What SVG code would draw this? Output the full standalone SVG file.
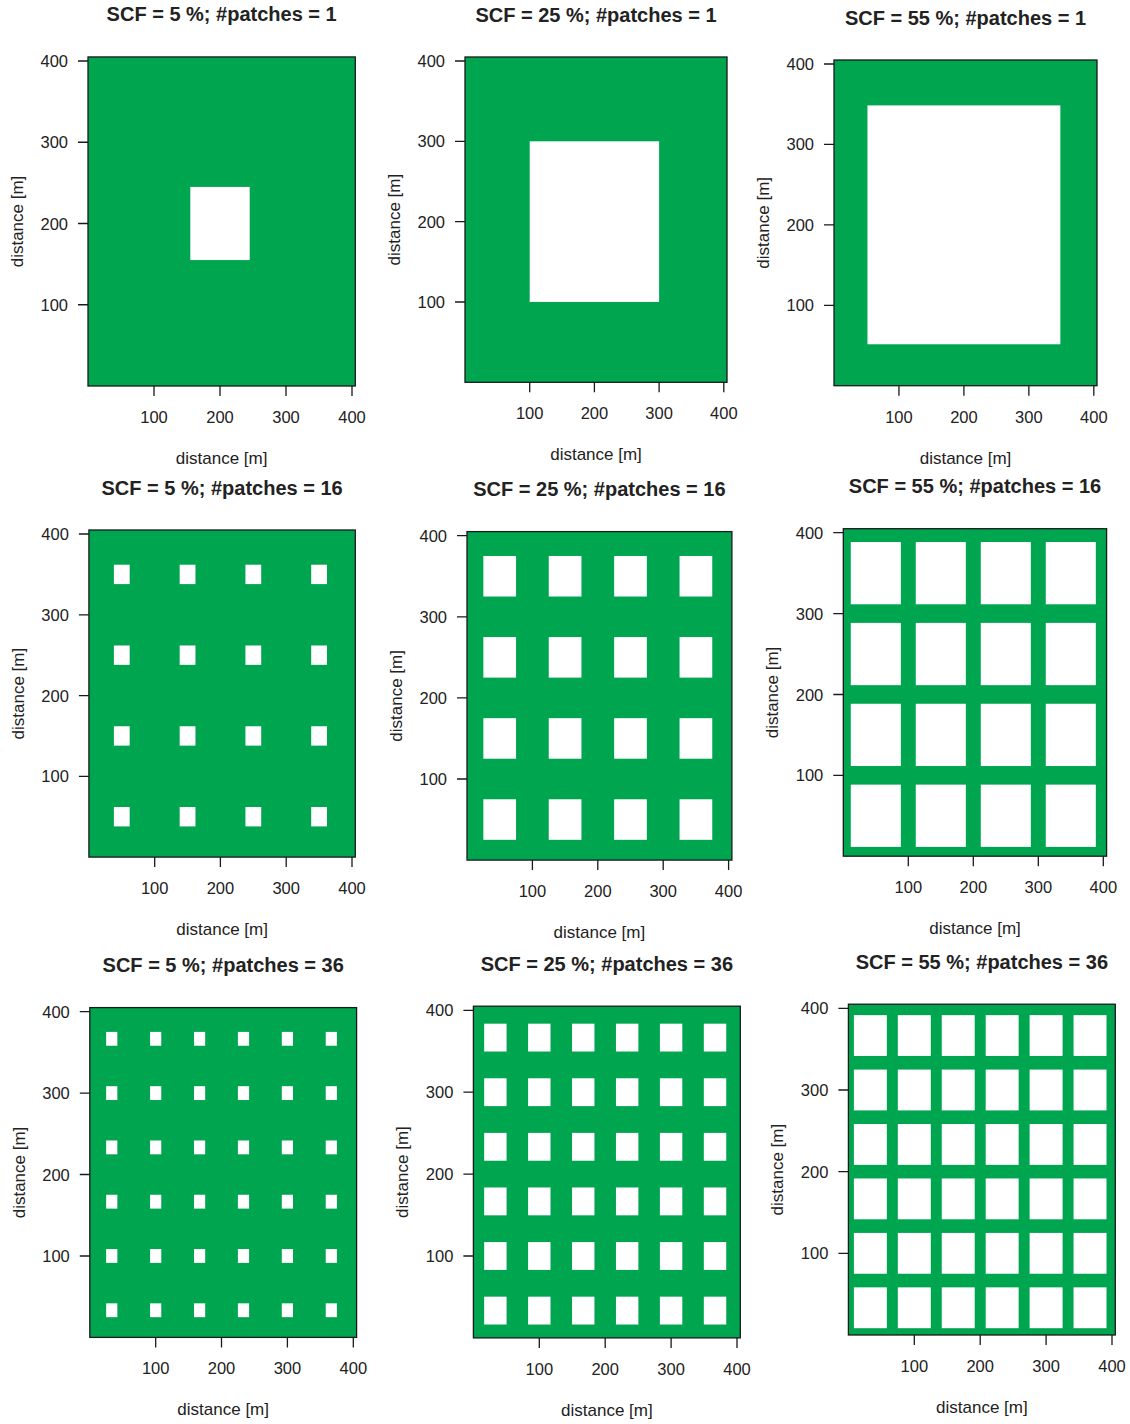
<svg xmlns="http://www.w3.org/2000/svg" width="1130" height="1424" viewBox="0 0 1130 1424">
<style>
.bg{fill:#00a54f}
.w{fill:#ffffff}
.box{fill:none;stroke:#1a1a1a;stroke-width:1.3}
.tk{fill:none;stroke:#1a1a1a;stroke-width:1.3}
text{font-family:"Liberation Sans",Arial,sans-serif;fill:#222}
.t{font-size:20px;font-weight:bold;text-anchor:middle}
.xl{font-size:16.5px;text-anchor:middle}
.yl{font-size:16.5px;text-anchor:end}
.al{font-size:17px;text-anchor:middle}
</style>
<rect width="1130" height="1424" fill="#ffffff"/>

<g id="panel-scf5-n1">
 <g transform="translate(88,386) scale(0.66,-0.8125)">
  <rect class="bg" width="405" height="405"/>
  <rect class="w" x="155" y="155" width="90" height="90"/>
 </g>
 <rect class="box" x="88" y="56.94" width="267.3" height="329.06"/>
 <path class="tk" d="M78 304.75H88M78 223.5H88M78 142.25H88M78 61H88M154 386V396M220 386V396M286 386V396M352 386V396"/>
 <text class="t" x="221.65" y="21.4">SCF = 5 %; #patches = 1</text>
 <text class="yl" x="68" y="310.75">100</text><text class="yl" x="68" y="229.5">200</text><text class="yl" x="68" y="148.25">300</text><text class="yl" x="68" y="67">400</text>
 <text class="xl" x="154" y="423">100</text><text class="xl" x="220" y="423">200</text><text class="xl" x="286" y="423">300</text><text class="xl" x="352" y="423">400</text>
 <text class="al" x="221.65" y="464">distance [m]</text>
 <text class="al" transform="translate(23,221.5) rotate(-90)">distance [m]</text>
</g>

<g id="panel-scf25-n1">
 <g transform="translate(465,382.3) scale(0.647,-0.8033)">
  <rect class="bg" width="405" height="405"/>
  <rect class="w" x="100" y="100" width="200" height="200"/>
 </g>
 <rect class="box" x="465" y="57" width="262" height="325.3"/>
 <path class="tk" d="M455 302H465M455 221.6H465M455 141.3H465M455 61H465M529.7 382.3V392.3M594.4 382.3V392.3M659.1 382.3V392.3M723.8 382.3V392.3"/>
 <text class="t" x="596" y="21.5">SCF = 25 %; #patches = 1</text>
 <text class="yl" x="445" y="308">100</text><text class="yl" x="445" y="227.6">200</text><text class="yl" x="445" y="147.3">300</text><text class="yl" x="445" y="67">400</text>
 <text class="xl" x="529.7" y="419.3">100</text><text class="xl" x="594.4" y="419.3">200</text><text class="xl" x="659.1" y="419.3">300</text><text class="xl" x="723.8" y="419.3">400</text>
 <text class="al" x="596" y="460.3">distance [m]</text>
 <text class="al" transform="translate(400,219.6) rotate(-90)">distance [m]</text>
</g>

<g id="panel-scf55-n1">
 <g transform="translate(834,385.7) scale(0.6495,-0.8043)">
  <rect class="bg" width="405" height="405"/>
  <rect class="w" x="51.5" y="51.5" width="297" height="297"/>
 </g>
 <rect class="box" x="834" y="60" width="263" height="325.7"/>
 <path class="tk" d="M824 305.3H834M824 224.8H834M824 144.4H834M824 64H834M898.95 385.7V395.7M963.9 385.7V395.7M1028.85 385.7V395.7M1093.8 385.7V395.7"/>
 <text class="t" x="965.5" y="24.5">SCF = 55 %; #patches = 1</text>
 <text class="yl" x="814" y="311.3">100</text><text class="yl" x="814" y="230.8">200</text><text class="yl" x="814" y="150.4">300</text><text class="yl" x="814" y="70">400</text>
 <text class="xl" x="898.95" y="422.7">100</text><text class="xl" x="963.9" y="422.7">200</text><text class="xl" x="1028.85" y="422.7">300</text><text class="xl" x="1093.8" y="422.7">400</text>
 <text class="al" x="965.5" y="463.7">distance [m]</text>
 <text class="al" transform="translate(769,222.8) rotate(-90)">distance [m]</text>
</g>

<g id="panel-scf5-n16">
 <g transform="translate(88.9,857.1) scale(0.6577,-0.8077)">
  <rect class="bg" width="405" height="405"/>
  <rect class="w" x="38" y="38" width="24" height="24"/><rect class="w" x="138" y="38" width="24" height="24"/><rect class="w" x="238" y="38" width="24" height="24"/><rect class="w" x="338" y="38" width="24" height="24"/>
  <rect class="w" x="38" y="138" width="24" height="24"/><rect class="w" x="138" y="138" width="24" height="24"/><rect class="w" x="238" y="138" width="24" height="24"/><rect class="w" x="338" y="138" width="24" height="24"/>
  <rect class="w" x="38" y="238" width="24" height="24"/><rect class="w" x="138" y="238" width="24" height="24"/><rect class="w" x="238" y="238" width="24" height="24"/><rect class="w" x="338" y="238" width="24" height="24"/>
  <rect class="w" x="38" y="338" width="24" height="24"/><rect class="w" x="138" y="338" width="24" height="24"/><rect class="w" x="238" y="338" width="24" height="24"/><rect class="w" x="338" y="338" width="24" height="24"/>
 </g>
 <rect class="box" x="88.9" y="530" width="266.4" height="327.1"/>
 <path class="tk" d="M78.9 776.3H88.9M78.9 695.6H88.9M78.9 614.8H88.9M78.9 534H88.9M154.7 857.1V867.1M220.4 857.1V867.1M286.2 857.1V867.1M352 857.1V867.1"/>
 <text class="t" x="222.1" y="494.5">SCF = 5 %; #patches = 16</text>
 <text class="yl" x="68.9" y="782.3">100</text><text class="yl" x="68.9" y="701.6">200</text><text class="yl" x="68.9" y="620.8">300</text><text class="yl" x="68.9" y="540">400</text>
 <text class="xl" x="154.7" y="894.1">100</text><text class="xl" x="220.4" y="894.1">200</text><text class="xl" x="286.2" y="894.1">300</text><text class="xl" x="352" y="894.1">400</text>
 <text class="al" x="222.1" y="935.1">distance [m]</text>
 <text class="al" transform="translate(24,693.6) rotate(-90)">distance [m]</text>
</g>

<g id="panel-scf25-n16">
 <g transform="translate(467,860.1) scale(0.654,-0.811)">
  <rect class="bg" width="405" height="405"/>
  <rect class="w" x="25" y="25" width="50" height="50"/><rect class="w" x="125" y="25" width="50" height="50"/><rect class="w" x="225" y="25" width="50" height="50"/><rect class="w" x="325" y="25" width="50" height="50"/>
  <rect class="w" x="25" y="125" width="50" height="50"/><rect class="w" x="125" y="125" width="50" height="50"/><rect class="w" x="225" y="125" width="50" height="50"/><rect class="w" x="325" y="125" width="50" height="50"/>
  <rect class="w" x="25" y="225" width="50" height="50"/><rect class="w" x="125" y="225" width="50" height="50"/><rect class="w" x="225" y="225" width="50" height="50"/><rect class="w" x="325" y="225" width="50" height="50"/>
  <rect class="w" x="25" y="325" width="50" height="50"/><rect class="w" x="125" y="325" width="50" height="50"/><rect class="w" x="225" y="325" width="50" height="50"/><rect class="w" x="325" y="325" width="50" height="50"/>
 </g>
 <rect class="box" x="467" y="531.6" width="264.9" height="328.5"/>
 <path class="tk" d="M457 779H467M457 697.9H467M457 616.8H467M457 535.7H467M532.4 860.1V870.1M597.8 860.1V870.1M663.2 860.1V870.1M728.6 860.1V870.1"/>
 <text class="t" x="599.4" y="496.1">SCF = 25 %; #patches = 16</text>
 <text class="yl" x="447" y="785">100</text><text class="yl" x="447" y="703.9">200</text><text class="yl" x="447" y="622.8">300</text><text class="yl" x="447" y="541.7">400</text>
 <text class="xl" x="532.4" y="897.1">100</text><text class="xl" x="597.8" y="897.1">200</text><text class="xl" x="663.2" y="897.1">300</text><text class="xl" x="728.6" y="897.1">400</text>
 <text class="al" x="599.4" y="938.1">distance [m]</text>
 <text class="al" transform="translate(402,695.9) rotate(-90)">distance [m]</text>
</g>

<g id="panel-scf55-n16">
 <g transform="translate(843.3,856.2) scale(0.65,-0.8087)">
  <rect class="bg" width="405" height="405"/>
  <rect class="w" x="11.5" y="11.5" width="77" height="77"/><rect class="w" x="111.5" y="11.5" width="77" height="77"/><rect class="w" x="211.5" y="11.5" width="77" height="77"/><rect class="w" x="311.5" y="11.5" width="77" height="77"/>
  <rect class="w" x="11.5" y="111.5" width="77" height="77"/><rect class="w" x="111.5" y="111.5" width="77" height="77"/><rect class="w" x="211.5" y="111.5" width="77" height="77"/><rect class="w" x="311.5" y="111.5" width="77" height="77"/>
  <rect class="w" x="11.5" y="211.5" width="77" height="77"/><rect class="w" x="111.5" y="211.5" width="77" height="77"/><rect class="w" x="211.5" y="211.5" width="77" height="77"/><rect class="w" x="311.5" y="211.5" width="77" height="77"/>
  <rect class="w" x="11.5" y="311.5" width="77" height="77"/><rect class="w" x="111.5" y="311.5" width="77" height="77"/><rect class="w" x="211.5" y="311.5" width="77" height="77"/><rect class="w" x="311.5" y="311.5" width="77" height="77"/>
 </g>
 <rect class="box" x="843.3" y="528.7" width="263.3" height="327.5"/>
 <path class="tk" d="M833.3 775.3H843.3M833.3 694.5H843.3M833.3 613.6H843.3M833.3 532.7H843.3M908.3 856.2V866.2M973.3 856.2V866.2M1038.3 856.2V866.2M1103.3 856.2V866.2"/>
 <text class="t" x="975" y="493.2">SCF = 55 %; #patches = 16</text>
 <text class="yl" x="823.3" y="781.3">100</text><text class="yl" x="823.3" y="700.5">200</text><text class="yl" x="823.3" y="619.6">300</text><text class="yl" x="823.3" y="538.7">400</text>
 <text class="xl" x="908.3" y="893.2">100</text><text class="xl" x="973.3" y="893.2">200</text><text class="xl" x="1038.3" y="893.2">300</text><text class="xl" x="1103.3" y="893.2">400</text>
 <text class="al" x="975" y="934.2">distance [m]</text>
 <text class="al" transform="translate(778,692.5) rotate(-90)">distance [m]</text>
</g>

<g id="panel-scf5-n36">
 <g transform="translate(89.8,1337.4) scale(0.6587,-0.8143)">
  <rect class="bg" width="405" height="405"/>
  <g id="c1r1"><rect class="w" x="24.83" y="24.83" width="17" height="17"/><rect class="w" x="91.5" y="24.83" width="17" height="17"/><rect class="w" x="158.17" y="24.83" width="17" height="17"/><rect class="w" x="224.83" y="24.83" width="17" height="17"/><rect class="w" x="291.5" y="24.83" width="17" height="17"/><rect class="w" x="358.17" y="24.83" width="17" height="17"/></g>
  <rect class="w" x="24.83" y="91.5" width="17" height="17"/><rect class="w" x="91.5" y="91.5" width="17" height="17"/><rect class="w" x="158.17" y="91.5" width="17" height="17"/><rect class="w" x="224.83" y="91.5" width="17" height="17"/><rect class="w" x="291.5" y="91.5" width="17" height="17"/><rect class="w" x="358.17" y="91.5" width="17" height="17"/>
  <rect class="w" x="24.83" y="158.17" width="17" height="17"/><rect class="w" x="91.5" y="158.17" width="17" height="17"/><rect class="w" x="158.17" y="158.17" width="17" height="17"/><rect class="w" x="224.83" y="158.17" width="17" height="17"/><rect class="w" x="291.5" y="158.17" width="17" height="17"/><rect class="w" x="358.17" y="158.17" width="17" height="17"/>
  <rect class="w" x="24.83" y="224.83" width="17" height="17"/><rect class="w" x="91.5" y="224.83" width="17" height="17"/><rect class="w" x="158.17" y="224.83" width="17" height="17"/><rect class="w" x="224.83" y="224.83" width="17" height="17"/><rect class="w" x="291.5" y="224.83" width="17" height="17"/><rect class="w" x="358.17" y="224.83" width="17" height="17"/>
  <rect class="w" x="24.83" y="291.5" width="17" height="17"/><rect class="w" x="91.5" y="291.5" width="17" height="17"/><rect class="w" x="158.17" y="291.5" width="17" height="17"/><rect class="w" x="224.83" y="291.5" width="17" height="17"/><rect class="w" x="291.5" y="291.5" width="17" height="17"/><rect class="w" x="358.17" y="291.5" width="17" height="17"/>
  <rect class="w" x="24.83" y="358.17" width="17" height="17"/><rect class="w" x="91.5" y="358.17" width="17" height="17"/><rect class="w" x="158.17" y="358.17" width="17" height="17"/><rect class="w" x="224.83" y="358.17" width="17" height="17"/><rect class="w" x="291.5" y="358.17" width="17" height="17"/><rect class="w" x="358.17" y="358.17" width="17" height="17"/>
 </g>
 <rect class="box" x="89.8" y="1007.6" width="266.8" height="329.8"/>
 <path class="tk" d="M79.8 1256H89.8M79.8 1174.5H89.8M79.8 1093.1H89.8M79.8 1011.7H89.8M155.7 1337.4V1347.4M221.5 1337.4V1347.4M287.4 1337.4V1347.4M353.3 1337.4V1347.4"/>
 <text class="t" x="223.2" y="972.1">SCF = 5 %; #patches = 36</text>
 <text class="yl" x="69.8" y="1262">100</text><text class="yl" x="69.8" y="1180.5">200</text><text class="yl" x="69.8" y="1099.1">300</text><text class="yl" x="69.8" y="1017.7">400</text>
 <text class="xl" x="155.7" y="1374.4">100</text><text class="xl" x="221.5" y="1374.4">200</text><text class="xl" x="287.4" y="1374.4">300</text><text class="xl" x="353.3" y="1374.4">400</text>
 <text class="al" x="223.2" y="1415.4">distance [m]</text>
 <text class="al" transform="translate(25,1172.5) rotate(-90)">distance [m]</text>
</g>

<g id="panel-scf25-n36">
 <g transform="translate(473.4,1337.9) scale(0.659,-0.819)">
  <rect class="bg" width="405" height="405"/>
  <rect class="w" x="16.33" y="16.33" width="34" height="34"/><rect class="w" x="83" y="16.33" width="34" height="34"/><rect class="w" x="149.67" y="16.33" width="34" height="34"/><rect class="w" x="216.33" y="16.33" width="34" height="34"/><rect class="w" x="283" y="16.33" width="34" height="34"/><rect class="w" x="349.67" y="16.33" width="34" height="34"/>
  <rect class="w" x="16.33" y="83" width="34" height="34"/><rect class="w" x="83" y="83" width="34" height="34"/><rect class="w" x="149.67" y="83" width="34" height="34"/><rect class="w" x="216.33" y="83" width="34" height="34"/><rect class="w" x="283" y="83" width="34" height="34"/><rect class="w" x="349.67" y="83" width="34" height="34"/>
  <rect class="w" x="16.33" y="149.67" width="34" height="34"/><rect class="w" x="83" y="149.67" width="34" height="34"/><rect class="w" x="149.67" y="149.67" width="34" height="34"/><rect class="w" x="216.33" y="149.67" width="34" height="34"/><rect class="w" x="283" y="149.67" width="34" height="34"/><rect class="w" x="349.67" y="149.67" width="34" height="34"/>
  <rect class="w" x="16.33" y="216.33" width="34" height="34"/><rect class="w" x="83" y="216.33" width="34" height="34"/><rect class="w" x="149.67" y="216.33" width="34" height="34"/><rect class="w" x="216.33" y="216.33" width="34" height="34"/><rect class="w" x="283" y="216.33" width="34" height="34"/><rect class="w" x="349.67" y="216.33" width="34" height="34"/>
  <rect class="w" x="16.33" y="283" width="34" height="34"/><rect class="w" x="83" y="283" width="34" height="34"/><rect class="w" x="149.67" y="283" width="34" height="34"/><rect class="w" x="216.33" y="283" width="34" height="34"/><rect class="w" x="283" y="283" width="34" height="34"/><rect class="w" x="349.67" y="283" width="34" height="34"/>
  <rect class="w" x="16.33" y="349.67" width="34" height="34"/><rect class="w" x="83" y="349.67" width="34" height="34"/><rect class="w" x="149.67" y="349.67" width="34" height="34"/><rect class="w" x="216.33" y="349.67" width="34" height="34"/><rect class="w" x="283" y="349.67" width="34" height="34"/><rect class="w" x="349.67" y="349.67" width="34" height="34"/>
 </g>
 <rect class="box" x="473.4" y="1006.2" width="266.9" height="331.7"/>
 <path class="tk" d="M463.4 1256H473.4M463.4 1174.1H473.4M463.4 1092.2H473.4M463.4 1010.3H473.4M539.3 1337.9V1347.9M605.2 1337.9V1347.9M671.1 1337.9V1347.9M737 1337.9V1347.9"/>
 <text class="t" x="606.85" y="970.7">SCF = 25 %; #patches = 36</text>
 <text class="yl" x="453.4" y="1262">100</text><text class="yl" x="453.4" y="1180.1">200</text><text class="yl" x="453.4" y="1098.2">300</text><text class="yl" x="453.4" y="1016.3">400</text>
 <text class="xl" x="539.3" y="1374.9">100</text><text class="xl" x="605.2" y="1374.9">200</text><text class="xl" x="671.1" y="1374.9">300</text><text class="xl" x="737" y="1374.9">400</text>
 <text class="al" x="606.85" y="1415.9">distance [m]</text>
 <text class="al" transform="translate(408,1172.05) rotate(-90)">distance [m]</text>
</g>

<g id="panel-scf55-n36">
 <g transform="translate(848.4,1335) scale(0.659,-0.8167)">
  <rect class="bg" width="405" height="405"/>
  <rect class="w" x="8.33" y="8.33" width="50" height="50"/><rect class="w" x="75" y="8.33" width="50" height="50"/><rect class="w" x="141.67" y="8.33" width="50" height="50"/><rect class="w" x="208.33" y="8.33" width="50" height="50"/><rect class="w" x="275" y="8.33" width="50" height="50"/><rect class="w" x="341.67" y="8.33" width="50" height="50"/>
  <rect class="w" x="8.33" y="75" width="50" height="50"/><rect class="w" x="75" y="75" width="50" height="50"/><rect class="w" x="141.67" y="75" width="50" height="50"/><rect class="w" x="208.33" y="75" width="50" height="50"/><rect class="w" x="275" y="75" width="50" height="50"/><rect class="w" x="341.67" y="75" width="50" height="50"/>
  <rect class="w" x="8.33" y="141.67" width="50" height="50"/><rect class="w" x="75" y="141.67" width="50" height="50"/><rect class="w" x="141.67" y="141.67" width="50" height="50"/><rect class="w" x="208.33" y="141.67" width="50" height="50"/><rect class="w" x="275" y="141.67" width="50" height="50"/><rect class="w" x="341.67" y="141.67" width="50" height="50"/>
  <rect class="w" x="8.33" y="208.33" width="50" height="50"/><rect class="w" x="75" y="208.33" width="50" height="50"/><rect class="w" x="141.67" y="208.33" width="50" height="50"/><rect class="w" x="208.33" y="208.33" width="50" height="50"/><rect class="w" x="275" y="208.33" width="50" height="50"/><rect class="w" x="341.67" y="208.33" width="50" height="50"/>
  <rect class="w" x="8.33" y="275" width="50" height="50"/><rect class="w" x="75" y="275" width="50" height="50"/><rect class="w" x="141.67" y="275" width="50" height="50"/><rect class="w" x="208.33" y="275" width="50" height="50"/><rect class="w" x="275" y="275" width="50" height="50"/><rect class="w" x="341.67" y="275" width="50" height="50"/>
  <rect class="w" x="8.33" y="341.67" width="50" height="50"/><rect class="w" x="75" y="341.67" width="50" height="50"/><rect class="w" x="141.67" y="341.67" width="50" height="50"/><rect class="w" x="208.33" y="341.67" width="50" height="50"/><rect class="w" x="275" y="341.67" width="50" height="50"/><rect class="w" x="341.67" y="341.67" width="50" height="50"/>
 </g>
 <rect class="box" x="848.4" y="1004.2" width="266.9" height="330.8"/>
 <path class="tk" d="M838.4 1253.3H848.4M838.4 1171.7H848.4M838.4 1090H848.4M838.4 1008.3H848.4M914.3 1335V1345M980.2 1335V1345M1046.1 1335V1345M1112 1335V1345"/>
 <text class="t" x="981.85" y="968.7">SCF = 55 %; #patches = 36</text>
 <text class="yl" x="828.4" y="1259.3">100</text><text class="yl" x="828.4" y="1177.7">200</text><text class="yl" x="828.4" y="1096">300</text><text class="yl" x="828.4" y="1014.3">400</text>
 <text class="xl" x="914.3" y="1372">100</text><text class="xl" x="980.2" y="1372">200</text><text class="xl" x="1046.1" y="1372">300</text><text class="xl" x="1112" y="1372">400</text>
 <text class="al" x="981.85" y="1413">distance [m]</text>
 <text class="al" transform="translate(783,1169.6) rotate(-90)">distance [m]</text>
</g>
</svg>
